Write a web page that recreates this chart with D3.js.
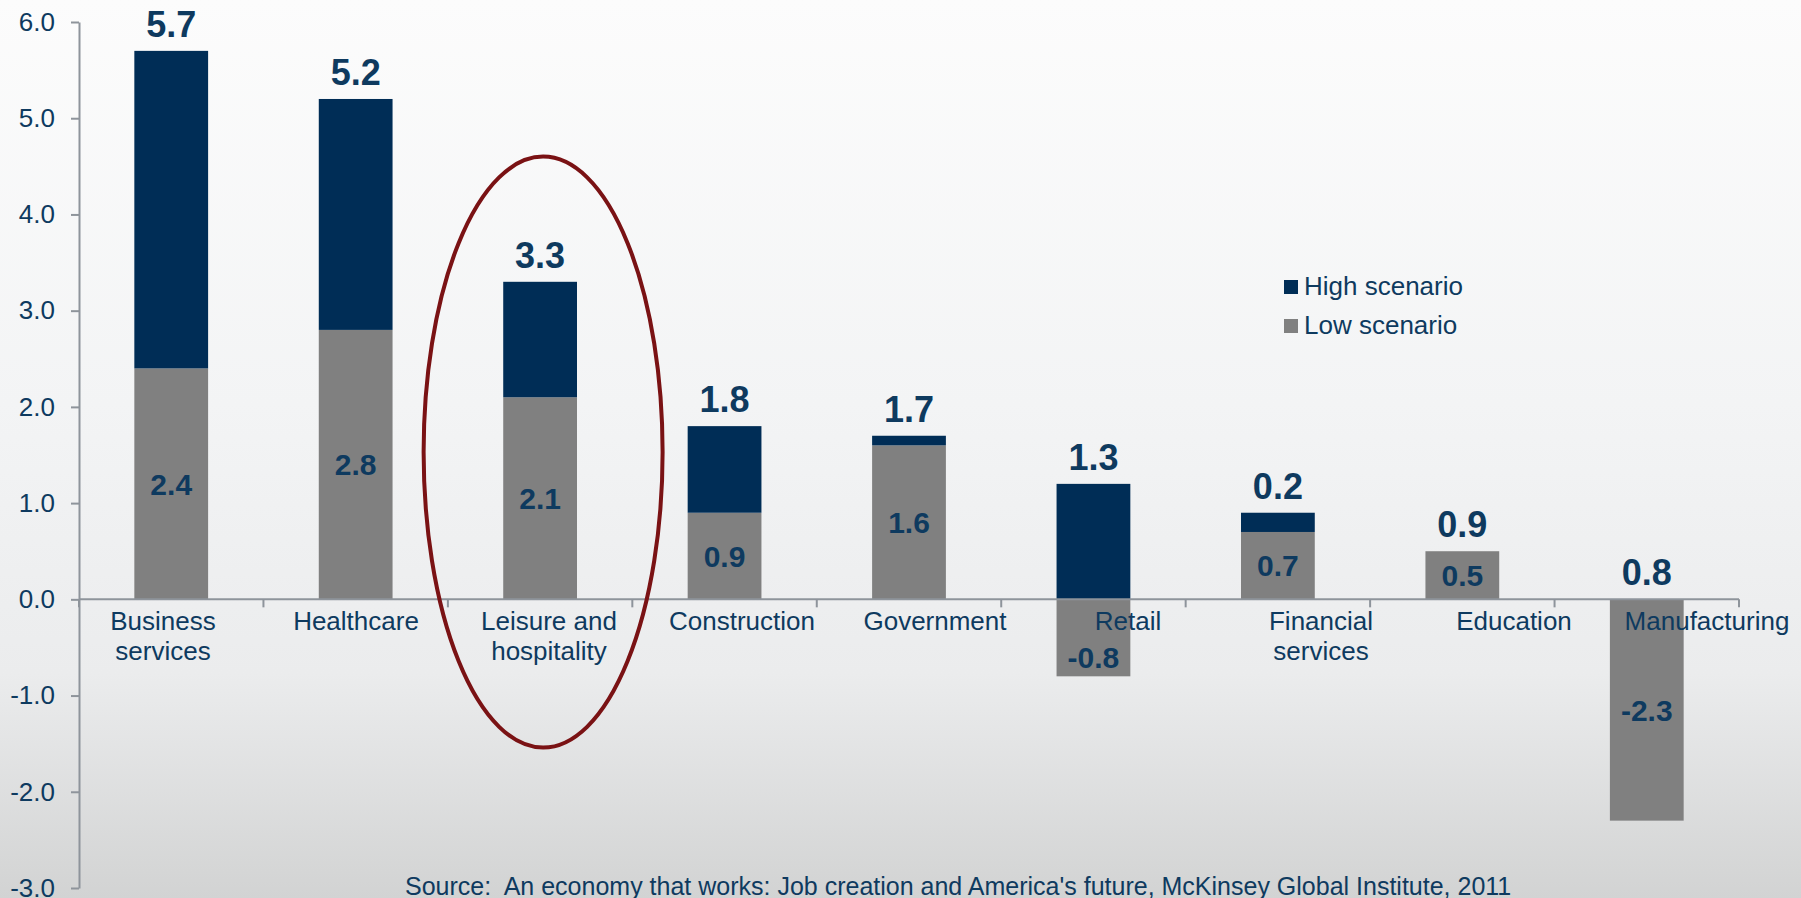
<!DOCTYPE html>
<html>
<head>
<meta charset="utf-8">
<script src="https://cdn.jsdelivr.net/npm/d3@7"></script>
<style>
  html, body { margin: 0; padding: 0; overflow: hidden; }
  body { width: 1801px; height: 898px; }
  svg text { font-family: "Liberation Sans", Arial, sans-serif; fill: #0e3a5f; }
</style>
</head>
<body>
<div id="chart"></div>
<script>
// chart values
var categories = ["Business\nservices", "Healthcare", "Leisure and\nhospitality", "Construction",
                  "Government", "Retail", "Financial\nservices", "Education", "Manufacturing"];
var lowScenario = [2.4, 2.8, 2.1, 0.9, 1.6, -0.8, 0.7, 0.5, -2.3];      // grey segment + inner label
var highIncrement = [3.3, 2.4, 1.2, 0.9, 0.1, 1.2, 0.2, 0, 0];          // navy segment stacked on top
var highScenario = [5.7, 5.2, 3.3, 1.8, 1.7, 1.3, 0.2, 0.9, 0.8];       // bold label above bar
var yTicks = [-3, -2, -1, 0, 1, 2, 3, 4, 5, 6];
var legendItems = ["High scenario", "Low scenario"];
var sourceText = "Source:  An economy that works: Job creation and America's future, McKinsey Global Institute, 2011";

var W = 1801, H = 898;
var navy = "#002d56", grey = "#808080", axisColor = "#8e949b";

var svg = d3.select("#chart").append("svg")
    .attr("width", W).attr("height", H);

// background gradient
var grad = svg.append("defs").append("linearGradient")
    .attr("id", "bg").attr("x1", 0).attr("y1", 0).attr("x2", 0).attr("y2", 1);
grad.append("stop").attr("offset", "0%").attr("stop-color", "#fcfcfc");
grad.append("stop").attr("offset", "45%").attr("stop-color", "#f3f4f5");
grad.append("stop").attr("offset", "75%").attr("stop-color", "#ebeced");
grad.append("stop").attr("offset", "100%").attr("stop-color", "#d2d3d3");
svg.append("rect").attr("width", W).attr("height", H).attr("fill", "url(#bg)");

var x = d3.scaleBand()
    .domain(categories)
    .range([79, 1739])
    .paddingInner(0.6)
    .paddingOuter(0.3);

// category labels sit on a slightly wider spread than the bars
var xLabel = d3.scalePoint()
    .domain(categories)
    .range([163, 1707]);

var y = d3.scaleLinear()
    .domain([-3, 6])
    .range([888, 22]);

// stacked data (diverging so negative low values go below zero)
var rows = categories.map(function (c, i) {
  return {cat: c, low: lowScenario[i], high: highIncrement[i]};
});
var stack = d3.stack().keys(["low", "high"]).offset(d3.stackOffsetDiverging);
var series = stack(rows);
var colors = {low: grey, high: navy};

function barTop(i) {
  return Math.max(0, series[0][i][1], series[1][i][1]);
}

// y axis
var yAxis = d3.axisLeft(y)
    .tickValues(yTicks)
    .tickFormat(function (d) { return d.toFixed(1); })
    .tickSize(8)
    .tickSizeOuter(0)
    .tickPadding(16);

var yg = svg.append("g")
    .attr("transform", "translate(79,0)")
    .call(yAxis);
yg.select(".domain").attr("stroke", axisColor).attr("stroke-width", 2);
yg.selectAll(".tick line").attr("stroke", axisColor).attr("stroke-width", 2);
yg.selectAll(".tick text")
    .style("font-size", "26px")
    .attr("fill", "#0e3a5f");

// bars
svg.append("g").selectAll("g")
  .data(series)
  .enter().append("g")
    .attr("fill", function (s) { return colors[s.key]; })
  .selectAll("rect")
  .data(function (s) { return s; })
  .enter().append("rect")
    .attr("x", function (d) { return x(d.data.cat); })
    .attr("width", x.bandwidth())
    .attr("y", function (d) { return y(Math.max(d[0], d[1])); })
    .attr("height", function (d) { return Math.abs(y(d[0]) - y(d[1])); });

// x axis line and category ticks
var zeroY = y(0);
svg.append("line")
    .attr("x1", x.range()[0]).attr("x2", x.range()[1])
    .attr("y1", zeroY).attr("y2", zeroY)
    .attr("stroke", axisColor).attr("stroke-width", 2);

var boundaries = d3.range(categories.length + 1).map(function (i) {
  return x.range()[0] + i * x.step();
});
svg.append("g").selectAll("line")
  .data(boundaries)
  .enter().append("line")
    .attr("x1", function (d) { return d; }).attr("x2", function (d) { return d; })
    .attr("y1", zeroY).attr("y2", zeroY + 8)
    .attr("stroke", axisColor).attr("stroke-width", 2);

// category labels
var catText = svg.append("g").selectAll("text")
  .data(categories)
  .enter().append("text")
    .attr("text-anchor", "middle")
    .style("font-size", "26px");
catText.each(function (c) {
  var t = d3.select(this);
  c.split("\n").forEach(function (line, k) {
    t.append("tspan")
      .attr("x", xLabel(c))
      .attr("y", zeroY + 31 + k * 30)
      .text(line);
  });
});

// low scenario labels, centred in grey segment (kept clear of category labels below zero)
svg.append("g").selectAll("text")
  .data(series[0])
  .enter().append("text")
    .attr("x", function (d) { return x(d.data.cat) + x.bandwidth() / 2; })
    .attr("y", function (d) {
      var mid = (y(d[0]) + y(d[1])) / 2;
      return d[0] < 0 ? Math.max(mid, zeroY + 58) : mid;
    })
    .attr("dy", "0.36em")
    .attr("text-anchor", "middle")
    .style("font-size", "30px")
    .style("font-weight", "bold")
    .text(function (d, i) { return lowScenario[i].toFixed(1); });

// high scenario labels above bar
svg.append("g").selectAll("text")
  .data(series[1])
  .enter().append("text")
    .attr("x", function (d) { return x(d.data.cat) + x.bandwidth() / 2; })
    .attr("y", function (d, i) { return y(barTop(i)) - 14; })
    .attr("text-anchor", "middle")
    .style("font-size", "36px")
    .style("font-weight", "bold")
    .text(function (d, i) { return highScenario[i].toFixed(1); });

// highlight ellipse around leisure and hospitality
svg.append("ellipse")
    .attr("cx", x(categories[2]) + x.bandwidth() / 2 + 3)
    .attr("cy", y(1.53))
    .attr("rx", 119.5)
    .attr("ry", 295.5)
    .attr("fill", "none")
    .attr("stroke", "#7a1214")
    .attr("stroke-width", 4);

// legend
var legend = svg.append("g").attr("transform", "translate(1284,280)");
var li = legend.selectAll("g")
  .data(legendItems)
  .enter().append("g")
    .attr("transform", function (d, i) { return "translate(0," + i * 39 + ")"; });
li.append("rect")
    .attr("width", 14).attr("height", 14)
    .attr("fill", function (d, i) { return i === 0 ? navy : grey; });
li.append("text")
    .attr("x", 20).attr("y", 15)
    .style("font-size", "26px")
    .text(function (d) { return d; });

// source
svg.append("text")
    .attr("x", 405).attr("y", 895)
    .style("font-size", "25px")
    .style("white-space", "pre")
    .text(sourceText);
</script>
</body>
</html>
